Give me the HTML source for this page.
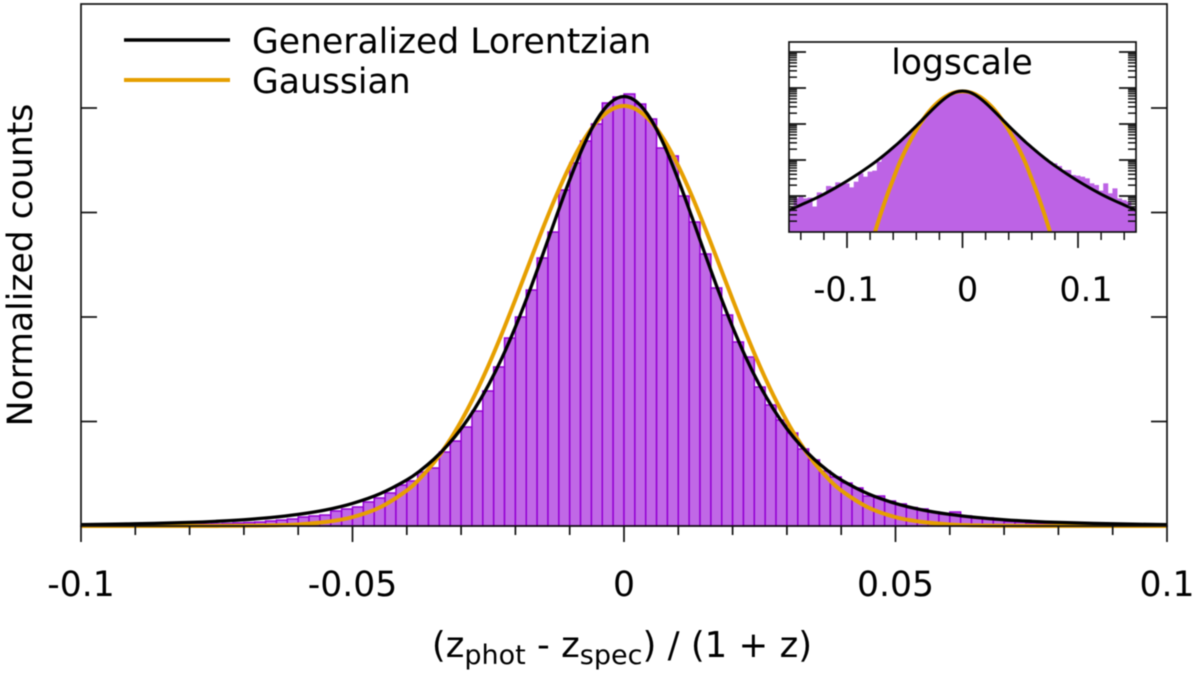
<!DOCTYPE html>
<html lang="en">
<head>
<meta charset="utf-8">
<title>Normalized counts histogram</title>
<style>
html,body{margin:0;padding:0;background:#fff;width:1200px;height:674px;overflow:hidden}
svg{display:block;filter:blur(0.4px)}
text{font-family:"DejaVu Sans","Liberation Sans",sans-serif;fill:#000}
</style>
</head>
<body>
<svg id="chart" xmlns="http://www.w3.org/2000/svg" width="1200" height="674" viewBox="0 0 1200 674">
  <defs>
    <clipPath id="main-clip"><rect x="81" y="4" width="1086" height="526"/></clipPath>
    <clipPath id="inset-clip"><rect x="789" y="42" width="347" height="190"/></clipPath>
  </defs>
  <g id="main-bars"></g>
  <g id="main-curves" clip-path="url(#main-clip)"></g>
  <rect x="81" y="4" width="1086" height="522" fill="none" stroke="#111" stroke-width="1.7"/>
  <g id="main-ticks" stroke="#111" stroke-width="1.7"></g>
  <g id="main-labels" font-size="34.6" text-anchor="middle"></g>
  <text transform="translate(32,265) rotate(-90)" font-size="34.6" text-anchor="middle">Normalized counts</text>
  <text x="622" y="657" font-size="35.5" text-anchor="middle">(z<tspan font-size="27" dy="7">phot</tspan><tspan dy="-7"> - z</tspan><tspan font-size="27" dy="7">spec</tspan><tspan dy="-7">) / (1 + z)</tspan></text>
  <g>
    <line x1="124" y1="40" x2="230" y2="40" stroke="#000" stroke-width="3.4"/>
    <text x="252" y="53" font-size="34.6">Generalized Lorentzian</text>
    <line x1="124" y1="80" x2="230" y2="80" stroke="#e69f00" stroke-width="4"/>
    <text x="252" y="93" font-size="34.6">Gaussian</text>
  </g>
  <g>
    <rect x="789" y="42" width="347" height="190" fill="#fff"/>
    <g id="inset-bars" clip-path="url(#inset-clip)"></g>
    <g id="inset-curves" clip-path="url(#inset-clip)"></g>
    <rect x="789" y="42" width="347" height="190" fill="none" stroke="#111" stroke-width="1.7"/>
    <g id="inset-ticks" stroke="#111" stroke-width="1.5"></g>
    <g id="inset-labels" font-size="33.5" text-anchor="middle"></g>
    <text x="962" y="74" font-size="34.5" text-anchor="middle">logscale</text>
  </g>
</svg>
<script>
// ---- data ----
const binStart = -0.1;
const binWidth = 0.002;
const binCounts = [
  .004,.004,.005,.006,.006,.008,.009,.01,.012,.014,
  .016,.018,.02,.024,.029,.033,.038,.048,.057,.067,
  .086,.096,.105,.144,.163,.182,.23,.268,.316,.392,
  .431,.517,.555,.708,.813,.947,1.10,1.292,1.522,1.799,
  2.0,2.258,2.565,2.813,3.215,3.474,3.684,3.847,4.048,4.105,
  4.134,4.038,3.895,3.617,3.541,3.158,2.909,2.603,2.278,2.019,
  1.761,1.617,1.33,1.158,1.014,.89,.737,.632,.526,.469,
  .411,.364,.287,.287,.239,.211,.177,.163,.134,.115,
  .134,.096,.077,.077,.057,.043,.038,.029,.024,.022,
  .018,.016,.014,.012,.01,.008,.007,.006,.005,.004
];
// fitted curves: value at each |offset| from zero (both fits are symmetric)
const curveOffset = [0,.0025,.005,.0075,.01,.0125,.015,.0175,.02,.0225,.025,.0275,.03,.0325,.035,.0375,.04,.045,.05,.055,.06,.065,.07,.075,.08,.09,.1,.11,.12,.13,.14,.15];
const lorentzianValues = [4.11,4.052,3.888,3.632,3.312,2.957,2.591,2.235,1.904,1.606,1.345,1.121,.931,.772,.64,.531,.441,.307,.216,.153,.111,.081,.06,.045,.0345,.0208,.013,.0084,.0056,.0039,.0028,.002];
const gaussianValues = [4.02,3.98,3.868,3.686,3.445,3.159,2.841,2.506,2.168,1.84,1.532,1.251,1.003,.788,.607,.459,.34,.177,.085,.038,.0146,.0055,.0019,.0006,.00018,.00001,.00001,.00001,.00001,.00001,.00001,.00001];
const xTickLabels = ["-0.1","-0.05","0","0.05","0.1"];
const xMajorTicks = [-0.1,-0.05,0,0.05,0.1];
const xMinorTicks = [-0.09,-0.08,-0.07,-0.06,-0.04,-0.03,-0.02,-0.01,0.01,0.02,0.03,0.04,0.06,0.07,0.08,0.09];
const yTicks = [1,2,3,4];

const insetBinStart = -0.15;
const insetBinWidth = 0.004;
const insetCounts = [
  4.5e-4,8.6e-4,9.6e-4,8.6e-4,9e-4,5.1e-4,1.26e-3,1.19e-3,1.9e-3,1.82e-3,
  2.4e-3,2.15e-3,2.25e-3,1.74e-3,2.5e-3,4.27e-3,3.44e-3,4.74e-3,5.06e-3,9e-3,
  .0137,.0174,.0223,.0288,.0378,.0498,.0662,.0887,.119,.161,
  .217,.29,.383,.492,.609,.718,.797,.826,.797,.718,
  .609,.492,.383,.29,.217,.161,.119,.0887,.0662,.0498,
  .0378,.0288,.0223,.0174,.0137,.0111,.009,.0081,.00683,.00527,
  .00527,.00383,.00367,.00344,.0031,.00225,.00202,.00141,.00225,.00119,
  .00163,.00086,.00077,.0007,.00051
];
const insetCurveUnit = 4.976;
const insetXMajorTicks = [-0.1,0,0.1];
const insetXLabels = ["-0.1","0","0.1"];
const insetLabelOffset = [-1,5,8];
const insetXMinorTicks = [-0.14,-0.12,-0.08,-0.06,-0.04,-0.02,0.02,0.04,0.06,0.08,0.12,0.14];
const insetDecades = [1,0.1,0.01,0.001,0.0001];

// ---- axis functions ----
const SVGNS = "http://www.w3.org/2000/svg";
function xMain(v){ return 624 + v * 5430; }
function yMain(v){ return 526 - v * 104.5; }
function xInset(v){ return 962.5 + v * 1155; }
function yInset(v){ return 88 - 36 * Math.log10(v); }

function make(tag, attrs, parent){
  const el = document.createElementNS(SVGNS, tag);
  for (const k in attrs) el.setAttribute(k, attrs[k]);
  parent.appendChild(el);
  return el;
}
function smoothPath(pts){
  let d = "M" + pts[0][0].toFixed(2) + " " + pts[0][1].toFixed(2);
  for (let i = 0; i < pts.length - 1; i++){
    const p0 = pts[Math.max(i-1,0)], p1 = pts[i], p2 = pts[i+1], p3 = pts[Math.min(i+2,pts.length-1)];
    const c1x = p1[0] + (p2[0]-p0[0])/6, c1y = p1[1] + (p2[1]-p0[1])/6;
    const c2x = p2[0] - (p3[0]-p1[0])/6, c2y = p2[1] - (p3[1]-p1[1])/6;
    d += "C" + c1x.toFixed(2) + " " + c1y.toFixed(2) + " " + c2x.toFixed(2) + " " + c2y.toFixed(2) + " " + p2[0].toFixed(2) + " " + p2[1].toFixed(2);
  }
  return d;
}
function curvePoints(values, xf, yf, limit, scale){
  const right = [], left = [];
  curveOffset.forEach(function(o, i){
    if (o > limit + 1e-9) return;
    const v = values[i] / scale;
    right.push([xf(o), yf(v)]);
    if (o > 0) left.unshift([xf(-o), yf(v)]);
  });
  return left.concat(right);
}

// ---- main histogram ----
const mainBars = document.getElementById("main-bars");
binCounts.forEach(function(c, i){
  const x0 = xMain(binStart + i * binWidth), x1 = xMain(binStart + (i + 1) * binWidth);
  const r = make("rect", {x:x0, y:yMain(c), width:x1-x0, height:yMain(0)-yMain(c), fill:"#c068e6", stroke:"#9400d3", "stroke-width":1.5}, mainBars);
  
  
});

// ---- main curves ----
const mainCurves = document.getElementById("main-curves");
const gaussMain = make("path", {d:smoothPath(curvePoints(gaussianValues, xMain, yMain, 0.1, 1)), fill:"none", stroke:"#e69f00", "stroke-width":4}, mainCurves);


const lorMain = make("path", {d:smoothPath(curvePoints(lorentzianValues, xMain, yMain, 0.1, 1)), fill:"none", stroke:"#000", "stroke-width":3.3}, mainCurves);



// ---- main ticks ----
const mainTicks = document.getElementById("main-ticks");
xMajorTicks.forEach(function(t){
  const l = make("line", {x1:xMain(t), x2:xMain(t), y1:526, y2:542}, mainTicks);
  
  
});
xMinorTicks.forEach(function(t){
  const l = make("line", {x1:xMain(t), x2:xMain(t), y1:526, y2:535}, mainTicks);
  
  
});
yTicks.forEach(function(t){
  const a = make("line", {x1:81, x2:97, y1:yMain(t), y2:yMain(t)}, mainTicks);
  
  
  const b = make("line", {x1:1151, x2:1167, y1:yMain(t), y2:yMain(t)}, mainTicks);
  
  
});
const mainLabels = document.getElementById("main-labels");
xTickLabels.forEach(function(s, i){
  const t = make("text", {x:xMain(xMajorTicks[i]), y:596}, mainLabels);
  t.textContent = s;
  
  
});

// ---- inset ----
const insetBars = document.getElementById("inset-bars");
insetCounts.forEach(function(c, i){
  const x0 = xInset(insetBinStart + i * insetBinWidth), x1 = xInset(insetBinStart + (i + 1) * insetBinWidth);
  const r = make("rect", {x:x0-0.2, y:yInset(c), width:x1-x0+0.4, height:232-yInset(c), fill:"#bd63e5"}, insetBars);
  
  
});
const insetCurves = document.getElementById("inset-curves");
const gaussInset = make("path", {d:smoothPath(curvePoints(gaussianValues, xInset, yInset, 0.08, insetCurveUnit)), fill:"none", stroke:"#e69f00", "stroke-width":4}, insetCurves);


const lorInset = make("path", {d:smoothPath(curvePoints(lorentzianValues, xInset, yInset, 0.15, insetCurveUnit)), fill:"none", stroke:"#000", "stroke-width":3}, insetCurves);



const insetTicks = document.getElementById("inset-ticks");
insetXMajorTicks.forEach(function(t){
  const l = make("line", {x1:xInset(t), x2:xInset(t), y1:232, y2:248, "stroke-width":1.7}, insetTicks);
  
  
});
insetXMinorTicks.forEach(function(t){
  const l = make("line", {x1:xInset(t), x2:xInset(t), y1:232, y2:240}, insetTicks);
  
  
});
const minorMultipliers = [2,3,4,5,6,7,8,9];
insetDecades.forEach(function(d){
  const y0 = yInset(d * 10);
  const a = make("line", {x1:789, x2:806, y1:y0, y2:y0, "stroke-width":1.7}, insetTicks);
  
  
  const b = make("line", {x1:1119, x2:1136, y1:y0, y2:y0, "stroke-width":1.7}, insetTicks);
  
  
  minorMultipliers.forEach(function(m){
    const y = yInset(d * m);
    const c = make("line", {x1:789, x2:797, y1:y, y2:y}, insetTicks);
    
    
    const e = make("line", {x1:1128, x2:1136, y1:y, y2:y}, insetTicks);
    
    
  });
});
const insetLabels = document.getElementById("inset-labels");
insetXLabels.forEach(function(s, i){
  const t = make("text", {x:xInset(insetXMajorTicks[i]) + insetLabelOffset[i], y:301}, insetLabels);
  t.textContent = s;
  
  
});
</script>
</body>
</html>
